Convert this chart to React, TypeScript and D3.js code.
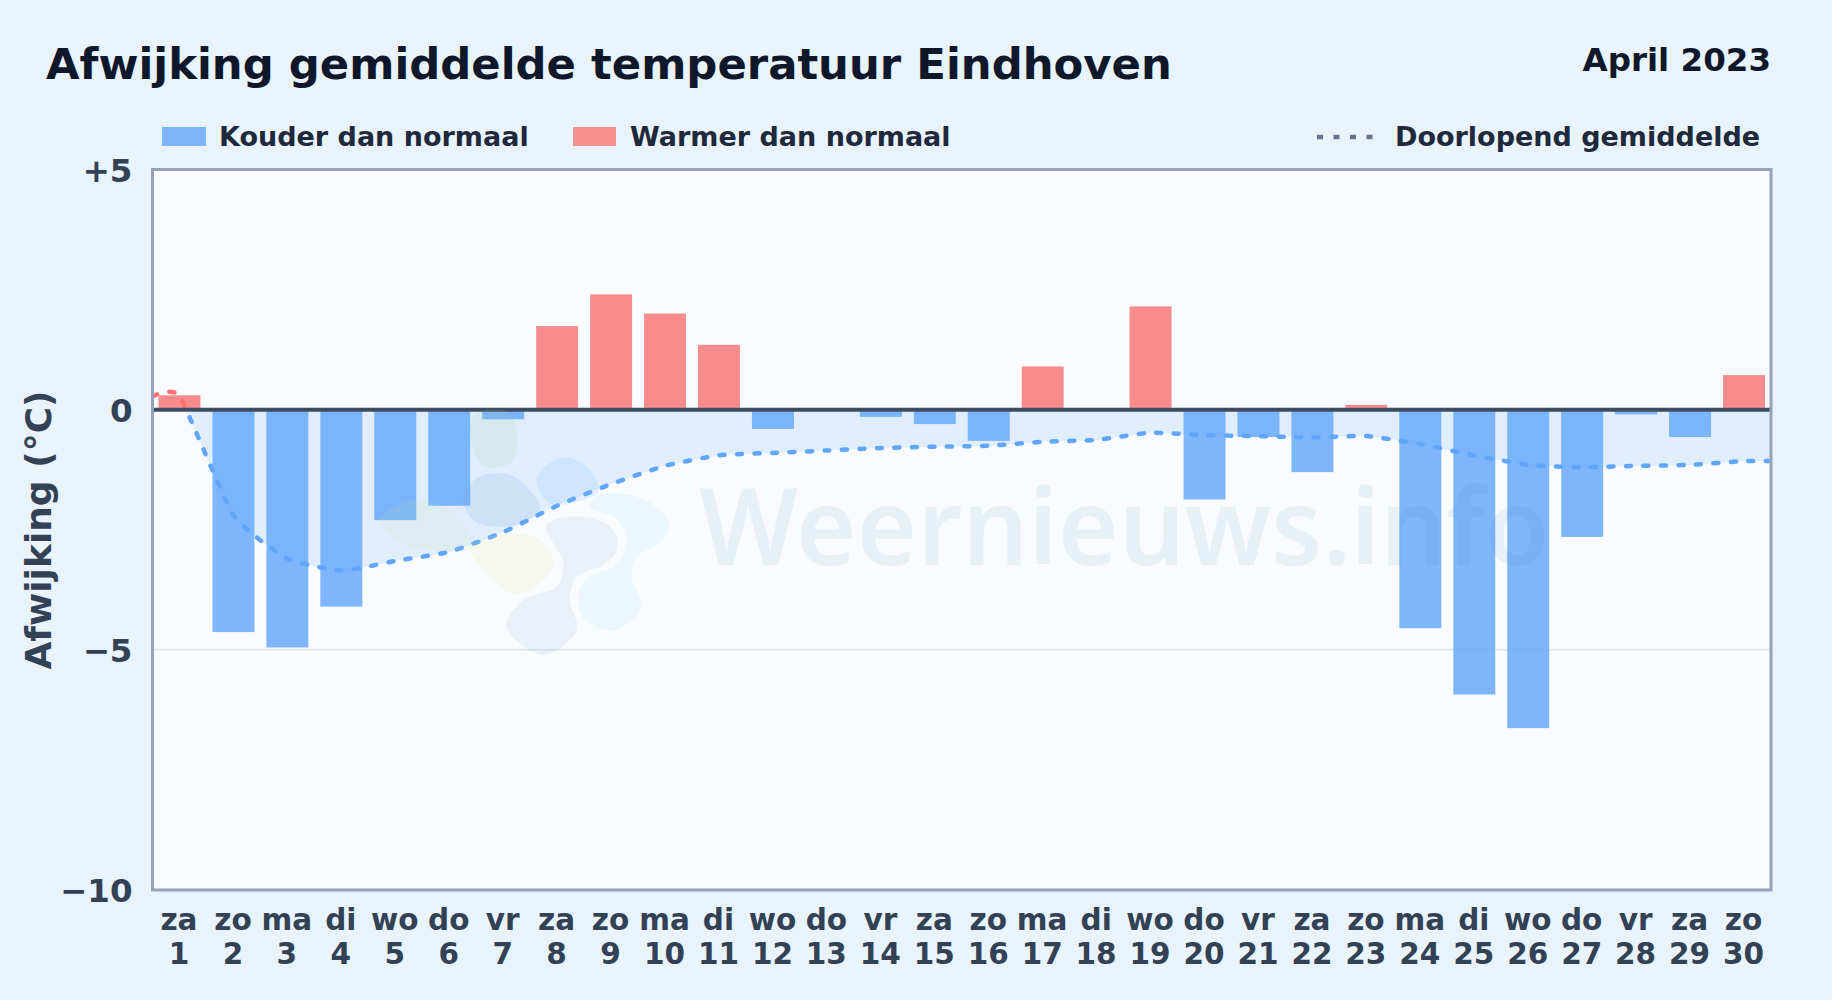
import React, { useEffect, useRef } from 'react'
import * as d3 from 'd3'

const dayNames = ['za', 'zo', 'ma', 'di', 'wo', 'do', 'vr', 'za', 'zo', 'ma', 'di', 'wo', 'do', 'vr', 'za', 'zo', 'ma', 'di', 'wo', 'do', 'vr', 'za', 'zo', 'ma', 'di', 'wo', 'do', 'vr', 'za', 'zo']
const dayNumbers = d3.range(1, 31)
const anomalies = [0.3, -4.63, -4.95, -4.1, -2.3, -2.0, -0.2, 1.74, 2.4, 2.0, 1.35, -0.4, 0, -0.15, -0.3, -0.65, 0.9, 0, 2.15, -1.87, -0.57, -1.3, 0.1, -4.55, -5.93, -6.63, -2.65, -0.1, -0.57, 0.72]
const runningMean = [0.28, -2.2, -3.1, -3.35, -3.15, -2.96, -2.55, -2.0, -1.55, -1.17, -0.95, -0.9, -0.85, -0.8, -0.77, -0.75, -0.67, -0.63, -0.48, -0.53, -0.55, -0.58, -0.55, -0.72, -0.95, -1.15, -1.2, -1.17, -1.15, -1.07]
const yTicks = [5, 0, -5, -10]

// watermark logo blobs
const logoBlobs: { fill: string; opacity: number; pts: [number, number][] }[] = [
    { fill: '#9ccf8a', opacity: 0.12, pts: [[365, 60], [400, 32], [480, 40], [500, 140], [480, 190], [400, 200], [370, 150]] },
    { fill: '#d5e6a0', opacity: 0.12, pts: [[90, 360], [200, 300], [310, 340], [370, 440], [250, 450], [150, 430]] },
    { fill: '#7aa5d8', opacity: 0.17, pts: [[340, 300], [380, 235], [470, 222], [530, 260], [570, 330], [510, 370], [430, 380], [370, 360]] },
    { fill: '#7cc0ff', opacity: 0.17, pts: [[560, 235], [640, 172], [720, 210], [745, 275], [660, 310], [600, 310]] },
    { fill: '#a0d4ff', opacity: 0.13, pts: [[745, 285], [880, 298], [958, 370], [925, 430], [860, 470], [845, 530], [872, 620], [790, 692], [700, 650], [685, 580], [720, 530], [800, 495], [830, 430], [800, 355], [720, 322]] },
    { fill: '#e8e88a', opacity: 0.13, pts: [[360, 440], [480, 400], [570, 420], [610, 490], [560, 560], [490, 580], [420, 530]] },
    { fill: '#8fa8c8', opacity: 0.13, pts: [[590, 375], [700, 350], [790, 390], [800, 450], [760, 495], [680, 530], [660, 600], [680, 690], [580, 765], [470, 680], [520, 600], [620, 560], [640, 490]] },
]

const fontFamily = '"DejaVu Sans", sans-serif'

export default function App() {
    const svgRef = useRef<SVGSVGElement>(null)

    useEffect(() => {
        if (!svgRef.current) return
        const svg = d3.select(svgRef.current)
        svg.selectAll('*').remove()

        const width = 1832
        const height = 1000
        const margin = { top: 169.5, right: 61, bottom: 110, left: 152.5 }
        const innerWidth = width - margin.left - margin.right
        const innerHeight = height - margin.top - margin.bottom

        const x = d3.scaleBand<number>().domain(dayNumbers).range([0, innerWidth]).paddingInner(0.222).paddingOuter(0.111)
        const xMid = d3.scaleLinear().domain([0.5, 30.5]).range([0, innerWidth])
        const y = d3.scaleLinear().domain([-10, 5]).range([innerHeight, 0])

        const defs = svg.append('defs')
        defs.append('clipPath').attr('id', 'clipBelow').append('rect')
            .attr('x', 0).attr('y', y(0)).attr('width', innerWidth).attr('height', innerHeight - y(0))
        defs.append('clipPath').attr('id', 'clipAbove').append('rect')
            .attr('x', 0).attr('y', 0).attr('width', innerWidth).attr('height', y(0))

        svg.append('rect').attr('width', width).attr('height', height).attr('fill', '#e8f3fc')

        // Title
        svg.append('text').attr('x', 46).attr('y', 79).attr('font-size', 43.35).attr('font-weight', 700)
            .attr('fill', '#0f172a').attr('font-family', fontFamily).text('Afwijking gemiddelde temperatuur Eindhoven')
        svg.append('text').attr('x', 1771).attr('y', 71).attr('text-anchor', 'end').attr('font-size', 32.5).attr('font-weight', 700)
            .attr('fill', '#0f172a').attr('font-family', fontFamily).text('April 2023')

        // Legend
        const legend = svg.append('g').attr('font-family', fontFamily).attr('font-size', 27).attr('font-weight', 700).attr('fill', '#1e293b')
        legend.append('rect').attr('x', 162).attr('y', 127).attr('width', 44).attr('height', 19).attr('fill', '#7fb4fb')
        legend.append('text').attr('x', 219).attr('y', 146).text('Kouder dan normaal')
        legend.append('rect').attr('x', 573).attr('y', 127).attr('width', 43).attr('height', 19).attr('fill', '#f99090')
        legend.append('text').attr('x', 630).attr('y', 146).text('Warmer dan normaal')
        legend.append('line').attr('x1', 1317).attr('x2', 1376).attr('y1', 137).attr('y2', 137)
            .attr('stroke', '#64748b').attr('stroke-width', 4.5).attr('stroke-dasharray', '6 10.5')
        legend.append('text').attr('x', 1395).attr('y', 146).text('Doorlopend gemiddelde')

        const g = svg.append('g').attr('transform', `translate(${margin.left},${margin.top})`)

        // Plot background
        g.append('rect').attr('width', innerWidth).attr('height', innerHeight).attr('fill', '#f8fbff')

        // Running mean points, held flat out to the plot edges
        const meanPts: [number, number][] = [
            [0.5, runningMean[0]],
            ...runningMean.map((v, i) => [dayNumbers[i], v] as [number, number]),
            [30.5, runningMean[runningMean.length - 1]],
        ]

        const curve = d3.curveCardinal.tension(0.5)
        const area = d3.area<[number, number]>()
            .x(d => xMid(d[0])).y0(y(0)).y1(d => y(d[1])).curve(curve)
        g.append('path').datum(meanPts).attr('d', area).attr('fill', '#dfedfd').attr('clip-path', 'url(#clipBelow)')

        // Watermark
        const blob = d3.line<[number, number]>().curve(d3.curveCatmullRomClosed.alpha(0.5))
        const logo = svg.append('g').attr('transform', 'translate(350,400) scale(0.3333)')
        logoBlobs.forEach(b => logo.append('path').attr('d', blob(b.pts)).attr('fill', b.fill).attr('fill-opacity', b.opacity))
        svg.append('text').attr('x', 699).attr('y', 565).attr('font-size', 107).attr('font-weight', 600)
            .attr('textLength', 850).attr('lengthAdjust', 'spacingAndGlyphs')
            .attr('font-family', '"Noto Sans", sans-serif').attr('fill', '#2a6fa0').attr('opacity', 0.07).text('Weernieuws.info')

        // Grid line at -5
        g.append('line').attr('x1', 0).attr('x2', innerWidth).attr('y1', y(-5)).attr('y2', y(-5))
            .attr('stroke', '#e2e8f0').attr('stroke-width', 2)

        // Bars
        g.selectAll('.bar').data(anomalies).enter().append('rect')
            .attr('class', 'bar')
            .attr('x', (_, i) => x(dayNumbers[i]) as number)
            .attr('width', x.bandwidth())
            .attr('y', d => y(Math.max(d, 0)))
            .attr('height', d => Math.abs(y(d) - y(0)))
            .attr('fill', d => (d < 0 ? '#60a5fa' : '#f87171'))
            .attr('fill-opacity', 0.8)

        // Running mean line, red above zero and blue below
        const line = d3.line<[number, number]>()
            .x(d => xMid(d[0])).y(d => y(d[1])).curve(curve)
        g.append('path').datum(meanPts).attr('d', line).attr('fill', 'none').attr('stroke', '#60a5fa')
            .attr('stroke-width', 4.5).attr('stroke-linecap', 'round').attr('stroke-dasharray', '5 12.5').attr('clip-path', 'url(#clipBelow)')
        g.append('path').datum(meanPts).attr('d', line).attr('fill', 'none').attr('stroke', '#f87171')
            .attr('stroke-width', 4.5).attr('stroke-linecap', 'round').attr('stroke-dasharray', '5 12.5').attr('clip-path', 'url(#clipAbove)')

        // Zero line
        g.append('line').attr('x1', 0).attr('x2', innerWidth).attr('y1', y(0)).attr('y2', y(0))
            .attr('stroke', '#3e4c5f').attr('stroke-width', 4)

        // Frame
        g.append('rect').attr('width', innerWidth).attr('height', innerHeight).attr('fill', 'none')
            .attr('stroke', '#94a3b8').attr('stroke-width', 3)

        // Y Axis
        const yAxis = g.append('g')
            .call(d3.axisLeft(y).tickValues(yTicks).tickSize(0).tickPadding(20)
                .tickFormat(d => (+d > 0 ? `+${d}` : +d < 0 ? `\u2212${Math.abs(+d)}` : '0')))
        yAxis.select('.domain').remove()
        yAxis.selectAll('text').attr('font-size', 32.5).attr('font-weight', 700).attr('font-family', fontFamily).attr('fill', '#334155').attr('dy', '0.36em')

        // X Axis
        const xAxis = g.append('g').attr('transform', `translate(0,${innerHeight})`)
            .call(d3.axisBottom(x).tickSize(0).tickFormat(() => ''))
        xAxis.select('.domain').remove()
        xAxis.selectAll<SVGTextElement, number>('text').each(function (d) {
            const t = d3.select(this).attr('font-size', 29.5).attr('font-weight', 700).attr('font-family', fontFamily).attr('fill', '#334155')
            t.attr('y', 0).attr('dy', null)
            t.append('tspan').attr('x', -0.5).attr('y', 40).text(dayNames[d - 1])
            t.append('tspan').attr('x', -0.5).attr('y', 74).text(String(d))
        })

        // Y Axis title
        svg.append('text').attr('transform', 'translate(51,530) rotate(-90)').attr('text-anchor', 'middle')
            .attr('font-size', 36).attr('font-weight', 700).attr('font-family', fontFamily).attr('fill', '#334155').text('Afwijking (°C)')
    }, [])

    return <svg ref={svgRef} width={1832} height={1000} viewBox="0 0 1832 1000" style={{ position: 'absolute', left: 0, top: 0, display: 'block' }} />
}
